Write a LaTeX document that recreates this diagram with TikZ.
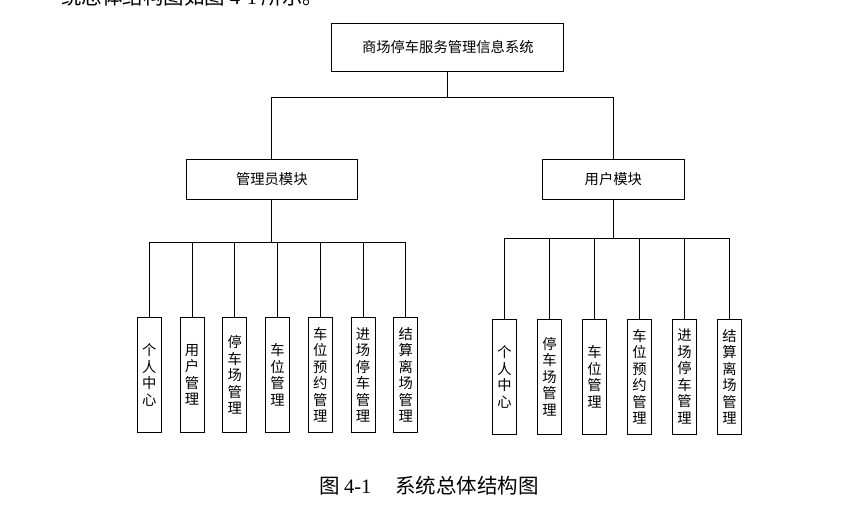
\documentclass[tikz,border=0pt]{standalone}
\usepackage{fontspec}
\setmainfont{Liberation Serif}
\newfontfamily\cjk{Noto Sans CJK SC}
\begin{document}
\begin{tikzpicture}[x=1pt,y=-1pt,
		box/.style={draw,line width=0.9pt,inner sep=0pt,font=\cjk\fontsize{14.3pt}{16.5pt}\selectfont},
		leaf/.style={box,minimum width=24pt,minimum height=115pt,align=center},
		body/.style={inner sep=0pt,font=\cjk\fontsize{20.5pt}{25pt}\selectfont}]
	\useasboundingbox (0,0) rectangle (854,508);
	\clip (0,0) rectangle (854,508);
	\node[body,anchor=base west] (T) at (61,5) {统总体结构图如图 {\rmfamily 4-1} 所示。};
	\node[box,minimum width=232pt,minimum height=47.7pt] (S) at (447.8,47.2) {商场停车服务管理信息系统};
	\node[box,minimum width=171.7pt,minimum height=40pt] (M1) at (271.8,179.3) {管理员模块};
	\node[box,minimum width=142pt,minimum height=40pt] (M2) at (613.3,179.3) {用户模块};
	\draw[line width=0.8pt] (S.south) -- ++(0,26.3) coordinate (s0) -| (M1.north);
	\draw[line width=0.8pt] (s0) -| (M2.north);
	\foreach \t [count=\i] in {{个\\人\\中\\心},{用\\户\\管\\理},{停\\车\\场\\管\\理},{车\\位\\管\\理},{车\\位\\预\\约\\管\\理},{进\\场\\停\\车\\管\\理},{结\\算\\离\\场\\管\\理}}
		\node[leaf] (A\i) at ({149.3+42.75*(\i-1)},375) {\t};
	\foreach \t [count=\i] in {{个\\人\\中\\心},{停\\车\\场\\管\\理},{车\\位\\管\\理},{车\\位\\预\\约\\管\\理},{进\\场\\停\\车\\管\\理},{结\\算\\离\\场\\管\\理}}
		\node[leaf] (U\i) at ({504.6+45*(\i-1)},376.7) {\t};
	\foreach \i in {1,...,7}
		\draw[line width=0.8pt] (M1.south) -- ++(0,42.4) -| (A\i.north);
	\foreach \i in {1,...,6}
		\draw[line width=0.8pt] (M2.south) -- ++(0,38.4) -| (U\i.north);
	\node[body,anchor=base] (C) at (429,493) {图 {\rmfamily 4-1}\hspace{24pt}系统总体结构图};
\end{tikzpicture}
\end{document}
